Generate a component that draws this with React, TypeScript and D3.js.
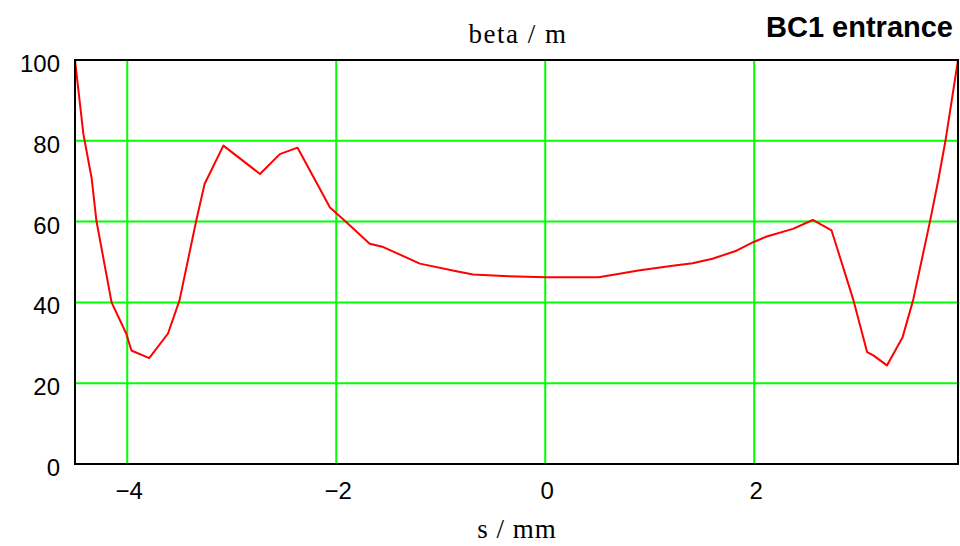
import React from "react";
import * as d3 from "d3";

const sValues: number[] = [
  -4.5, -4.42, -4.34, -4.295, -4.15, -4.01, -3.96, -3.79, -3.61, -3.5, -3.34, -3.26, -3.08,
  -2.73, -2.54, -2.37, -2.06, -1.9, -1.68, -1.55, -1.2, -0.85, -0.69, -0.35, 0, 0.51,
  0.71, 0.89, 1.22, 1.41, 1.6, 1.83, 1.99, 2.12, 2.37, 2.56, 2.74, 2.79, 2.95, 3.08, 3.14,
  3.27, 3.42, 3.52, 3.68, 3.76, 3.83, 3.95,
];
const betaValues: number[] = [
  100, 81.7, 70.6, 60.2, 40, 32.3, 28.1, 26.2, 32.3, 40.5, 60.2, 69.3, 78.8,
  71.8, 76.7, 78.3, 63.5, 59.8, 54.5, 53.7, 49.6, 47.7, 46.9, 46.5, 46.2, 46.2,
  47.1, 47.9, 49.1, 49.7, 50.8, 52.8, 54.9, 56.3, 58.2, 60.4, 57.8, 53.7, 40.5, 27.7, 26.9,
  24.4, 31.4, 40.5, 59.8, 70.1, 80, 100,
];
const xTicks: number[] = [-4, -2, 0, 2];
const yTicks: number[] = [0, 20, 40, 60, 80, 100];
const xDomain: [number, number] = [-4.5, 3.95];
const yDomain: [number, number] = [0, 100];
const titleText = "BC1 entrance";
const yLabel = "beta / m";
const xLabel = "s / mm";

export default function App() {
  const left = 75, right = 958, top = 60, bottom = 464;
  const x = d3.scaleLinear().domain(xDomain).range([left, right]);
  const y = d3.scaleLinear().domain(yDomain).range([bottom, top]);
  const pts = sValues.map((s, i) => [s, betaValues[i]] as [number, number]);
  const line = d3
    .line<[number, number]>()
    .x((d) => x(d[0]))
    .y((d) => y(d[1]));
  const fmt = (v: number) => (v < 0 ? "\u2212" + Math.abs(v) : String(v));
  return (
    <svg
      width={960}
      height={546}
      style={{ position: "absolute", left: 0, top: 0, background: "#fff" }}
    >
      <rect x={0} y={0} width={960} height={546} fill="#fff" />
      {xTicks.map((t) => (
        <line key={"gx" + t} x1={x(t)} x2={x(t)} y1={top} y2={bottom} stroke="#00ff00" strokeWidth={2} />
      ))}
      {yTicks.map((t) => (
        <line key={"gy" + t} x1={left} x2={right} y1={y(t)} y2={y(t)} stroke="#00ff00" strokeWidth={2} />
      ))}
      <path d={line(pts) || ""} fill="none" stroke="#ff0000" strokeWidth={2} strokeLinejoin="round" />
      <rect x={left} y={top} width={right - left} height={bottom - top} fill="none" stroke="#000" strokeWidth={2} />
      {yTicks.map((t) => (
        <text
          key={"ty" + t}
          x={60}
          y={y(t) + 12}
          textAnchor="end"
          fontFamily="'Liberation Sans', Arial, sans-serif"
          fontSize={24}
          fill="#000"
        >
          {fmt(t)}
        </text>
      ))}
      {xTicks.map((t) => (
        <text
          key={"tx" + t}
          x={x(t) + 2}
          y={499}
          textAnchor="middle"
          fontFamily="'Liberation Sans', Arial, sans-serif"
          fontSize={24}
          fill="#000"
        >
          {fmt(t)}
        </text>
      ))}
      <text
        x={518}
        y={43}
        textAnchor="middle"
        fontFamily="'Liberation Serif', 'Times New Roman', serif"
        fontSize={27}
        letterSpacing={1.5}
        fill="#000"
      >
        {yLabel}
      </text>
      <text
        x={517}
        y={538}
        textAnchor="middle"
        fontFamily="'Liberation Serif', 'Times New Roman', serif"
        fontSize={27}
        letterSpacing={1}
        fill="#000"
      >
        {xLabel}
      </text>
      <text
        x={953}
        y={37}
        textAnchor="end"
        fontFamily="'Liberation Sans', Arial, sans-serif"
        fontWeight="bold"
        fontSize={29}
        fill="#000"
      >
        {titleText}
      </text>
    </svg>
  );
}
